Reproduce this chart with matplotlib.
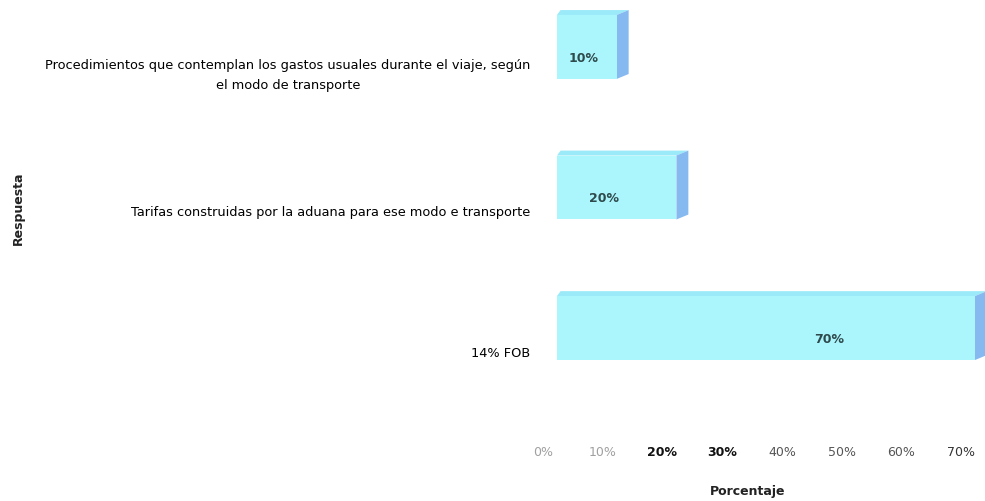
import matplotlib
matplotlib.use("Agg")
import matplotlib.pyplot as plt
from matplotlib.patches import Polygon, Rectangle
from matplotlib.transforms import ScaledTranslation

categories = [
    "Procedimientos que contemplan los gastos usuales durante el viaje, según\nel modo de transporte",
    "Tarifas construidas por la aduana para ese modo e transporte",
    "14% FOB",
]
values = [10, 20, 70]
tick_values = [0, 10, 20, 30, 40, 50, 60, 70]
tick_labels = ["0%", "10%", "20%", "30%", "40%", "50%", "60%", "70%"]

# where the value text sits along each bar (fraction of bar length)
label_frac = [0.44, 0.39, 0.65]
tick_colors = ["#a0a0a0", "#a0a0a0", "#111111", "#111111",
               "#555555", "#555555", "#555555", "#333333"]

FRONT = "#abf6fc"
TOP = "#9aeaf9"
SIDE = "#86b9f0"

fig = plt.figure(figsize=(9.85, 5.01), dpi=100)
ax = fig.add_axes([557 / 985, 101 / 501, 428 / 985, 400 / 501])
ax.set_xlim(0, 71.68)
ax.set_ylim(2.512, -0.334)

bar_h = 0.455
dx, dy = 2.0, 0.035
for i, v in enumerate(values):
    y0, y1 = i - bar_h / 2, i + bar_h / 2
    ax.add_patch(Polygon([(0, y0), (dx * 0.3, y0 - dy), (v + dx, y0 - dy), (v, y0)],
                         closed=True, fc=TOP, ec="none", zorder=2))
    ax.add_patch(Polygon([(v, y0), (v + dx, y0 - dy), (v + dx, y1 - dy), (v, y1)],
                         closed=True, fc=SIDE, ec="none", zorder=2))
    ax.add_patch(Rectangle((0, y0), v, bar_h, fc=FRONT, ec="none", zorder=3))
    ax.text(v * label_frac[i], i + 0.08, f"{v}%", ha="center", va="center",
            fontsize=9, fontweight="bold", color="#2e4a4c", zorder=4)

ax.set_yticks(range(len(categories)))
ax.set_yticklabels(categories, fontsize=9.3, multialignment="center",
                   linespacing=1.7)
ax.set_xticks(tick_values)
ax.set_xticklabels(tick_labels, fontsize=9)
ax.tick_params(axis="y", length=0, pad=19)
ax.tick_params(axis="x", length=0, pad=33)

down = ScaledTranslation(0, -0.24, fig.dpi_scale_trans)
for lab in ax.get_yticklabels():
    lab.set_transform(lab.get_transform() + down)
left = ScaledTranslation(-0.14, 0, fig.dpi_scale_trans)
for lab, c in zip(ax.get_xticklabels(), tick_colors):
    lab.set_transform(lab.get_transform() + left)
    lab.set_color(c)
    if c == "#111111":
        lab.set_fontweight("bold")

for s in ax.spines.values():
    s.set_visible(False)

fig.text(748 / 985, 1 - 492 / 501, "Porcentaje", ha="center", va="center",
         fontsize=9, fontweight="bold", color="#222222")
fig.text(18 / 985, 1 - 208 / 501, "Respuesta", ha="center", va="center",
         rotation=90, fontsize=9, fontweight="bold", color="#222222")

fig.savefig("out.png", dpi=100, facecolor="white")
